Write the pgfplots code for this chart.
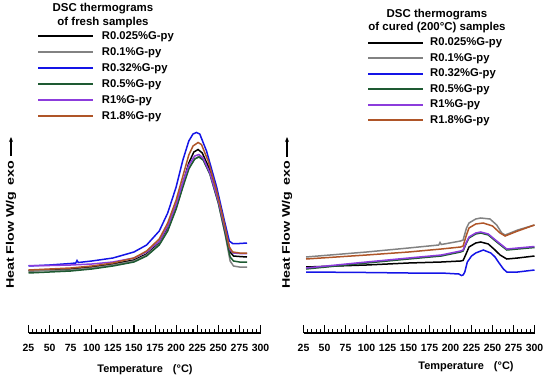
\documentclass[border=0pt]{standalone}
\usepackage{fontspec}
\setmainfont{Liberation Sans}
\newfontfamily\widefont[FakeStretch=1.3]{Liberation Sans}
\usepackage{pgfplots}
\pgfplotsset{compat=1.18}
\usetikzlibrary{arrows.meta}
\definecolor{cgray}{RGB}{130,130,130}
\definecolor{cblue}{RGB}{20,20,230}
\definecolor{cgreen}{RGB}{30,90,50}
\definecolor{cpurple}{RGB}{140,60,220}
\definecolor{cbrown}{RGB}{175,85,40}
\pgfplotsset{
  dsc/.style={
    scale only axis, anchor=south west,
    height=213bp, xmin=25, xmax=300, ymin=48, ymax=261,
    axis x line*=bottom, axis y line=none,
    xtick={25,50,...,300}, minor x tick num=4,
    xtick pos=lower, tick align=inside,
    major tick length=8bp, minor tick length=4.5bp,
    every tick/.style={black, line width=1.1bp},
    x axis line style={line width=1.3bp, -},
    ticklabel style={font=\fontsize{10.5}{12}\selectfont\bfseries},
    xticklabel style={yshift=-8bp},
    /pgf/number format/assume math mode=true,
    clip=false,
    every axis plot/.append style={line width=1.5bp, no marks},
    legend image code/.code={\draw[##1, line width=1.7bp] (0bp,0bp) -- (55bp,0bp);},
    legend cell align=left,
  }
}
\begin{document}
\begin{tikzpicture}[x=1bp,y=1bp]
\path[use as bounding box] (0,0) rectangle (550,381);
% ---------------- left panel ----------------
\begin{axis}[dsc, at={(28.5bp,48bp)}, width=232bp,
  legend style={at={(axis description cs:0.0366,1.418)}, anchor=north west,
    draw=none, fill=none, inner sep=0pt, row sep=6bp, column sep=8bp,
    nodes={inner sep=0pt, text height=8bp, text depth=2bp,
      font=\fontsize{11.3}{13}\selectfont\bfseries}}]
\addplot[black] table {
25 110
50 111
75 112
100 114
125 117
150 121
165 127
180 138
190 153
200 175
208 198
215 218
221 229
226 231.5
231 228
239 213
249 184
258 152
264 129
268 125
275 124.5
284 124
};
\addplot[cgray] table {
25 110
50 110.5
75 111
100 113
125 116
150 120
165 126
180 137
190 151
200 173
208 195
215 213
222 222
227 224.5
232 221.5
240 207
250 178
258 147
264 120
268 115
275 114
284 114
};
\addplot[cblue] table {
25 115
50 116
75 117.5
81 118
82.5 120.5
84 118.5
100 120
125 123
150 129
165 136
180 150
190 168
200 194
208 221
215 240
220 247
224 248.5
228 247
236 230
248 194
257 161
263 140
267 137.5
275 137.5
284 138
};
\addplot[cgreen] table {
25 108
50 109
75 110
100 112
125 115
150 119
165 125
180 136
190 150
200 172
208 194
215 212
222 222
227 224
232 221
240 207
250 178
258 148
264 124
268 120
275 119
284 119
};
\addplot[cpurple] table {
25 115.5
50 115.5
75 116
100 117
125 119
150 123
165 129
180 140
190 155
200 177
208 199
215 216
222 225
227 226.5
232 223
240 208
250 180
258 152
264 131
268 128
275 127.5
284 127.5
};
\addplot[cbrown] table {
25 111
50 112
75 113
100 115
125 118
150 123
165 130
180 142
190 158
200 181
208 205
215 226
220 235
226 238.5
230 236.5
238 220
248 190
257 158
263 134
267 129
275 128
284 128
};
\legend{R0.025\%G-py, R0.1\%G-py, R0.32\%G-py, R0.5\%G-py, R1\%G-py, R1.8\%G-py}
\end{axis}
% ---------------- right panel ----------------
\begin{axis}[dsc, at={(303.5bp,48bp)}, width=231bp,
  legend style={at={(axis description cs:0.276,1.387)}, anchor=north west,
    draw=none, fill=none, inner sep=0pt, row sep=5.5bp, column sep=6bp,
    nodes={inner sep=0pt, text height=8bp, text depth=2bp,
      font=\fontsize{11.3}{13}\selectfont\bfseries}}]
\addplot[black] table {
28 114
100 116
150 118
189 119
212 120
215 120.5
219 128
222 134
230 138
236 139
245 137
253 131
259 126
267 122
280 123
300 125
};
\addplot[cgray] table {
28 124
100 129
150 133
186 136
187.5 138.5
189 136.5
212 140
215 141
219 153
222 158
230 162
236 163
247 162
255 156
261 148
265 146
280 151
300 156
};
\addplot[cblue] table {
28 109
100 108.5
150 108
189 108
210 107
213 105.5
215 106
217 109
220 119
225 125
230 128
239 131
248 128
253 124
257 119
263 112
267 109
280 109
300 111
};
\addplot[cgreen] table {
28 112
100 118
150 122
189 125
212 129
215 130
219 138
222 143
230 147
236 148
245 146
255 139
261 135
267 131
280 132
300 133.5
};
\addplot[cpurple] table {
28 113
100 119
150 123
189 126
212 130
215 131
219 139
222 144
230 148
236 149
245 147
255 140
261 136
267 132
280 133
300 134.5
};
\addplot[cbrown] table {
28 122
100 126
150 129
189 132
212 134
215 135
219 146
222 153
230 157
239 158
250 155
259 148
265 145
280 150
300 156
};
\legend{R0.025\%G-py, R0.1\%G-py, R0.32\%G-py, R0.5\%G-py, R1\%G-py, R1.8\%G-py}
\end{axis}
% ---------------- titles and labels ----------------
\node[align=center, font=\fontsize{11.5}{14}\selectfont\bfseries] at (103,365.5) {DSC thermograms\\of fresh samples};
\node[align=center, font=\fontsize{11.5}{13}\selectfont\bfseries] at (437,359.5) {DSC thermograms\\of cured (200°C) samples};
\node[rotate=90, font=\widefont\fontsize{11}{13}\selectfont\bfseries] at (11,156) {Heat Flow W/g\hspace{6bp}exo};
\node[rotate=90, font=\widefont\fontsize{11}{13}\selectfont\bfseries] at (287,156) {Heat Flow W/g\hspace{6bp}exo};
\draw[line width=1.2bp, -{Stealth[length=5bp,width=4bp]}] (11,225) -- (11,244);
\draw[line width=1.2bp, -{Stealth[length=5bp,width=4bp]}] (287,224) -- (287,244);
\node[font=\fontsize{11}{13}\selectfont\bfseries] at (145,11) {Temperature\hspace{10bp}(°C)};
\node[font=\fontsize{11}{13}\selectfont\bfseries] at (466,14) {Temperature\hspace{10bp}(°C)};
\end{tikzpicture}
\end{document}
